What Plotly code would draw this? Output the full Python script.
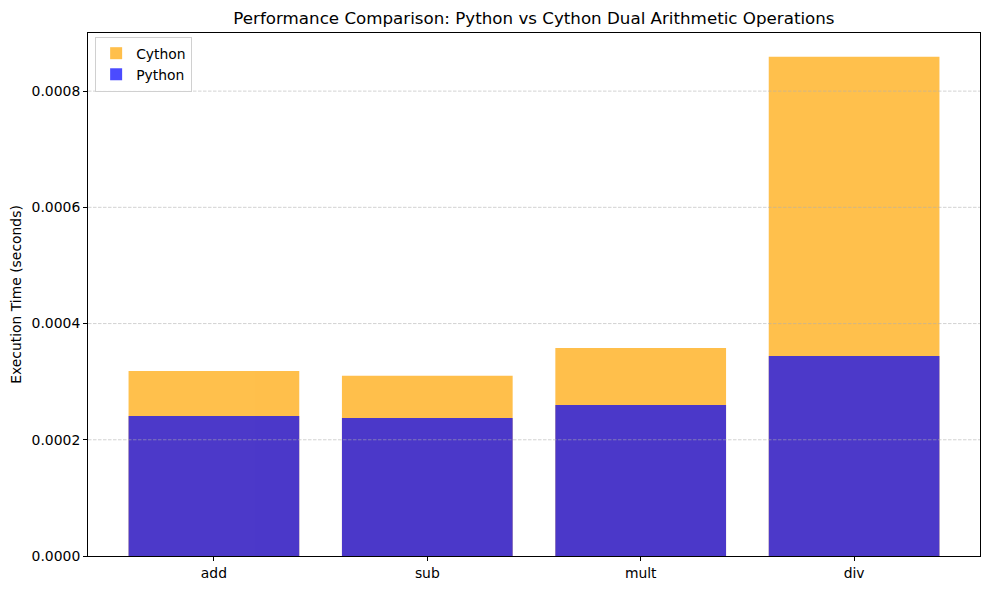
import plotly.graph_objects as go

operations = ["add", "sub", "mult", "div"]
cython_times = [0.0003185, 0.000310, 0.000358, 0.000859]
python_times = [0.000241, 0.0002376, 0.000260, 0.000344]
y_ticks = [0.0, 0.0002, 0.0004, 0.0006, 0.0008]

fig = go.Figure()
fig.add_trace(go.Bar(x=list(range(len(operations))), y=cython_times, name="Cython",
                     marker=dict(color="orange", line=dict(width=0)), opacity=0.7, width=0.8))
fig.add_trace(go.Bar(x=list(range(len(operations))), y=python_times, name="Python",
                     marker=dict(color="blue", line=dict(width=0)), opacity=0.7, width=0.8))

# dashed grid drawn above the bars, as in the reference
grid_shapes = [dict(type="line", xref="paper", yref="y", x0=0, x1=1, y0=t, y1=t, layer="above",
                    line=dict(color="rgba(176,176,176,0.7)", width=0.8, dash="3.5px,1.5px"))
               for t in y_ticks[1:]]

# page body has an 8px margin, compensate so the plot lands where the reference has it
fig.update_layout(
    barmode="overlay",
    width=989, height=590,
    margin=dict(l=80, r=17, t=25, b=42, autoexpand=False),
    paper_bgcolor="white", plot_bgcolor="white",
    font=dict(family="DejaVu Sans", size=13.9, color="black"),
    title=dict(text="Performance Comparison: Python vs Cython Dual Arithmetic Operations",
               x=0.5318, xanchor="center", y=0.983, yanchor="middle",
               font=dict(size=16.7, family="DejaVu Sans", color="black")),
    legend=dict(x=0.008, y=0.993, xanchor="left", yanchor="top",
                bordercolor="#d0d0d0", borderwidth=1, bgcolor="rgba(255,255,255,0.8)",
                font=dict(size=13.9), traceorder="normal", itemwidth=30,
                tracegroupgap=0),
    showlegend=True,
    shapes=grid_shapes,
)
fig.update_xaxes(range=[-0.59, 3.59], tickvals=list(range(len(operations))), ticktext=operations,
                 showline=True, linecolor="black", linewidth=1, mirror=True,
                 ticks="outside", ticklen=4, tickcolor="black", showgrid=False, zeroline=False)
fig.update_yaxes(range=[0, 0.0009], tickvals=y_ticks, tickformat=".4f",
                 showline=True, linecolor="black", linewidth=1, mirror=True,
                 ticks="outside", ticklen=4, tickcolor="black",
                 showgrid=False, zeroline=False,
                 title=dict(text="Execution Time (seconds)", font=dict(size=13.9), standoff=6))

fig.write_html("out.html")
